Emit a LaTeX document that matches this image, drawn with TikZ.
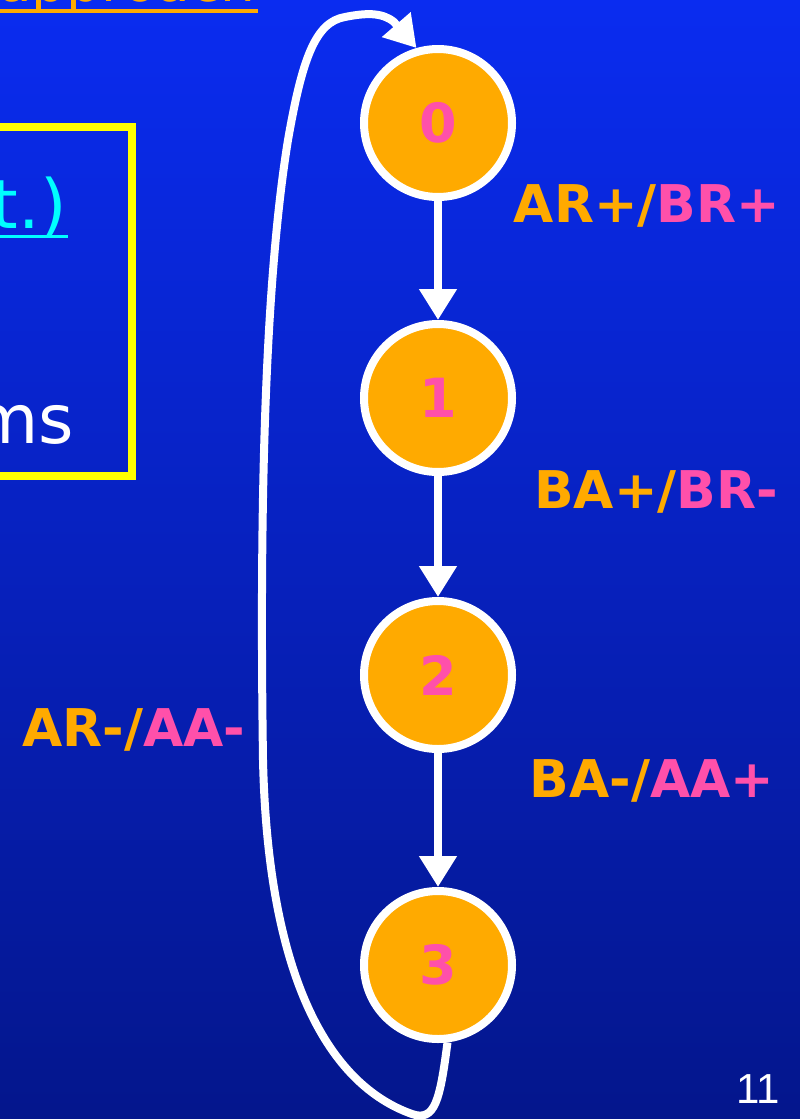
\documentclass[tikz,border=0pt]{standalone}
\usepackage{fontspec}
\setmainfont{DejaVu Sans}
\newfontfamily\pagefont{Liberation Sans}
\usetikzlibrary{arrows.meta}
\definecolor{slorange}{RGB}{255,170,0}
\definecolor{slpink}{RGB}{255,80,170}
\definecolor{bgtop}{RGB}{10,44,240}
\definecolor{bgbot}{RGB}{4,22,140}
\definecolor{slyellow}{RGB}{255,255,0}
\definecolor{slcyan}{RGB}{0,255,255}
\begin{document}
\begin{tikzpicture}[x=1pt,y=-1pt,
  statenode/.style={circle, draw=white, fill=slorange, line width=8pt,
    minimum size=148pt, inner sep=0pt, text=slpink,
    font=\bfseries\fontsize{54}{60}\selectfont},
  lbl/.style={inner sep=0pt, anchor=base, font=\bfseries\fontsize{52}{60}\selectfont},
  conn/.style={draw=white, line width=8pt, -{Triangle[length=31pt,width=36pt]}},
  slidetext/.style={inner sep=0pt, font=\fontsize{68}{76}\selectfont}]
\useasboundingbox (0,0) rectangle (800,1119);
\clip (0,0) rectangle (800,1119);
\shade[top color=bgtop, bottom color=bgbot] (0,0) rectangle (800,1119);

% partly visible title
\node[slidetext, anchor=base west, text=slorange, font=\fontsize{55}{60}\selectfont] (ttl) at (-2,1) {approach};
\draw[slorange, line width=4pt] (0,11) -- (258,11);

% yellow box with cut-off text
\draw[slyellow, line width=8pt] (-20,127) rectangle (132,476);
\node[slidetext, anchor=base east, text=slcyan] (cont) at (67,228) {t.)};
\draw[slcyan, line width=3pt] (0,236) -- (68,236);
\node[slidetext, anchor=base east, text=white] (ms) at (74,443) {ms};

% states
\node[statenode] (c0) at (438,123) {0};
\node[statenode] (c1) at (438,398) {1};
\node[statenode] (c2) at (438,675) {2};
\node[statenode] (c3) at (438,965) {3};

\draw[conn] (c0) -- (c1);
\draw[conn] (c1) -- (c2);
\draw[conn] (c2) -- (c3);

\draw[conn] (c3.-83) .. controls (440,1100) and (435,1122) .. (412,1114)
  .. controls (330,1085) and (268,980) .. (263,760)
  .. controls (260,550) and (262,300) .. (288,140)
  .. controls (302,60) and (315,22) .. (345,17)
  .. controls (365,13) and (382,12) .. (394,22)
  -- (c0.106);

% labels
\node[lbl] (l01) at (647,222) {\textcolor{slorange}{AR+/}\textcolor{slpink}{BR+}};
\node[lbl] (l12) at (656,508) {\textcolor{slorange}{BA+/}\textcolor{slpink}{BR-}};
\node[lbl] (l23) at (652,797) {\textcolor{slorange}{BA-/}\textcolor{slpink}{AA+}};
\node[lbl] (l30) at (134,746) {\textcolor{slorange}{AR-/}\textcolor{slpink}{AA-}};

% page number
\node[inner sep=0pt, anchor=base east, text=white, font=\pagefont\fontsize{42}{48}\selectfont] (pg) at (780,1103) {11};
\end{tikzpicture}
\end{document}
